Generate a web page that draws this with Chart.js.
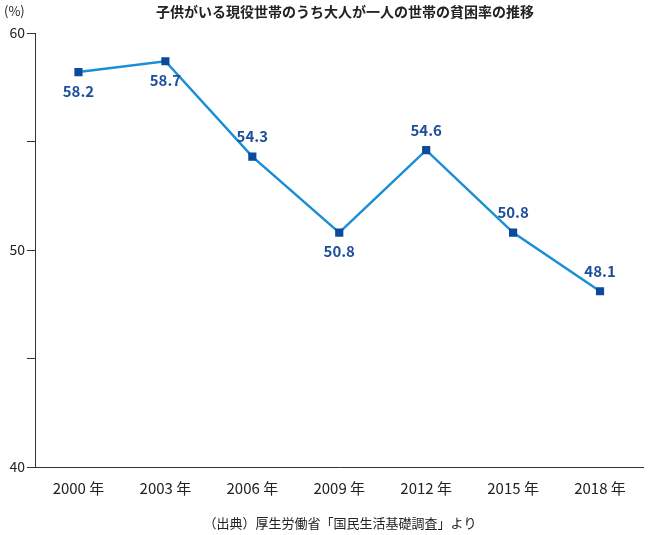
<!DOCTYPE html>
<html><head><meta charset="utf-8">
<script src="https://cdn.jsdelivr.net/npm/chart.js@4"></script>
<style>body{margin:0;background:#fff}#w{width:650px;height:535px;position:relative}</style>
</head><body><div id="w"><canvas id="c"></canvas></div>
<script>
const categories=["2000 年","2003 年","2006 年","2009 年","2012 年","2015 年","2018 年"];
const values=[58.2,58.7,54.3,50.8,54.6,50.8,48.1];
const labelBelow=[true,true,false,true,false,false,false];
const yTickLabels=[40,50,60];
const F="'Noto Sans CJK JP','Noto Sans',sans-serif";
const textPlugin={id:"txt",afterDraw(ch){
  const c=ch.ctx;c.save();
  c.fillStyle="#222";c.font="bold 14px "+F;c.textAlign="center";c.textBaseline="middle";
  c.fillText("子供がいる現役世帯のうち大人が一人の世帯の貧困率の推移",345,12);
  c.font="13px "+F;c.textAlign="left";c.fillText("(%)",4,11);
  c.textAlign="center";c.fillText("（出典）厚生労働省「国民生活基礎調査」より",340,523);
  const m=ch.getDatasetMeta(0);c.fillStyle="#1d4f9c";c.font="bold 15px "+F;
  m.data.forEach((p,i)=>{c.fillText(values[i].toFixed(1),p.x,p.y+(labelBelow[i]?19:-20));});
  c.restore();}};
new Chart(document.getElementById("c"),{type:"line",
 data:{labels:categories,datasets:[{data:values,borderColor:"#1a8ed6",borderWidth:2.5,tension:0,
  pointStyle:"rect",pointRadius:4,pointBackgroundColor:"#0d4a9c",pointBorderColor:"#0d4a9c"}]},
 options:{responsive:true,maintainAspectRatio:false,animation:false,
  layout:{padding:{top:33,right:-7,left:0,bottom:26}},
  plugins:{legend:{display:false},tooltip:{enabled:false}},
  scales:{
   x:{offset:true,grid:{display:false,drawTicks:false},border:{color:"#333"},
      ticks:{color:"#222",font:{size:15,family:F},padding:12}},
   y:{min:40,max:60,grid:{drawOnChartArea:false,drawTicks:true,tickLength:8,color:"#333"},border:{color:"#333"},
      afterFit(s){s.width=35;},
      ticks:{stepSize:5,color:"#222",font:{size:14,family:F},padding:2,
        callback:v=>yTickLabels.includes(v)?String(v):""}}}},
 plugins:[textPlugin]});
</script></body></html>
